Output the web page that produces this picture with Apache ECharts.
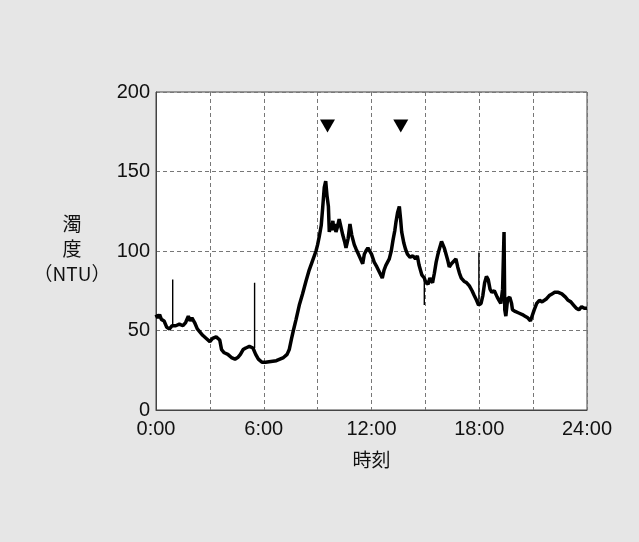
<!DOCTYPE html>
<html>
<head>
<meta charset="utf-8">
<script src="https://cdn.jsdelivr.net/npm/echarts@6/dist/echarts.min.js"></script>
<style>
  html, body { margin: 0; padding: 0; background: #e6e6e6; }
  #chart { width: 639px; height: 542px; }
</style>
</head>
<body>
<div id="chart"></div>
<script>
// Turbidity record over one day: [hour, NTU]
const turbidity = [
  [0.00, 60], [0.10, 58], [0.20, 60], [0.30, 57], [0.45, 56], [0.60, 52], [0.75, 51], [0.90, 53],
  [1.10, 53], [1.30, 54], [1.50, 53], [1.65, 55], [1.80, 59], [1.90, 56], [2.00, 58], [2.15, 55],
  [2.30, 51], [2.45, 49], [2.60, 47], [2.80, 45], [3.00, 43], [3.15, 45], [3.35, 46], [3.55, 44],
  [3.65, 38], [3.80, 36], [4.00, 35], [4.20, 33], [4.40, 32], [4.55, 33], [4.70, 35], [4.85, 38],
  [5.00, 39], [5.20, 40], [5.40, 39], [5.55, 35], [5.70, 32], [5.90, 30], [6.10, 30], [6.40, 30.5],
  [6.70, 31], [6.90, 32], [7.10, 33], [7.30, 35], [7.42, 38], [7.55, 45], [7.65, 50], [7.80, 57],
  [7.98, 66], [8.16, 73], [8.35, 81], [8.53, 88], [8.72, 94], [8.91, 100], [9.00, 104], [9.09, 109],
  [9.20, 116], [9.28, 127], [9.37, 140], [9.45, 144], [9.52, 135], [9.60, 128], [9.65, 112], [9.72, 116],
  [9.78, 113], [9.85, 119], [9.90, 113], [9.95, 117], [10.02, 112], [10.10, 115], [10.20, 120], [10.30, 115],
  [10.40, 110], [10.50, 106], [10.58, 102], [10.70, 108], [10.80, 117], [10.90, 110], [11.04, 104], [11.15, 101],
  [11.23, 99], [11.35, 96], [11.51, 92], [11.60, 98], [11.69, 100], [11.80, 102], [11.88, 101], [12.00, 98],
  [12.15, 93], [12.30, 90], [12.43, 87], [12.60, 83], [12.70, 88], [12.80, 91], [12.99, 95], [13.10, 100],
  [13.20, 107], [13.30, 113], [13.36, 118], [13.45, 124], [13.55, 128], [13.62, 120], [13.68, 112], [13.80, 105],
  [13.90, 101], [14.00, 98], [14.15, 96], [14.30, 97], [14.45, 95], [14.55, 97], [14.65, 91], [14.80, 85],
  [14.94, 83], [15.00, 81], [15.15, 79], [15.25, 83], [15.40, 80], [15.50, 86], [15.60, 93], [15.70, 98],
  [15.77, 101], [15.90, 106], [15.96, 105], [16.05, 102], [16.15, 101], [16.25, 94], [16.33, 90], [16.45, 92],
  [16.55, 91], [16.70, 95], [16.80, 90], [16.90, 86], [17.00, 83], [17.15, 81], [17.30, 80], [17.45, 78],
  [17.60, 75], [17.72, 72], [17.85, 69], [17.96, 66], [18.10, 67], [18.20, 72], [18.30, 80], [18.40, 84],
  [18.50, 82], [18.60, 76], [18.70, 74], [18.84, 75], [19.00, 71], [19.10, 69], [19.20, 67], [19.30, 76],
  [19.38, 112], [19.42, 63], [19.48, 59], [19.58, 70], [19.70, 71], [19.80, 67], [19.85, 63], [20.00, 62],
  [20.20, 61], [20.40, 60], [20.55, 59], [20.70, 58], [20.85, 56], [20.95, 55], [21.06, 63], [21.20, 67],
  [21.35, 69], [21.50, 68], [21.60, 67], [21.75, 70], [21.90, 72], [22.05, 73], [22.20, 74], [22.40, 74],
  [22.60, 73], [22.80, 71], [22.95, 69], [23.10, 68], [23.25, 66], [23.40, 64], [23.55, 63], [23.70, 65],
  [23.85, 64], [24.00, 64]
];

// Short single-sample spikes: [hour, base NTU, tip NTU]
const spikes = [
  [0.93, 53, 82],
  [5.49, 39, 80],
  [14.94, 83, 66],
  [17.98, 66, 99]
];

// Event markers above the curve: [hour, NTU]
const markers = [[9.55, 178.6], [13.63, 178.6]];

const yTicks = [0, 50, 100, 150, 200];
const timeLabels = ['0:00', '6:00', '12:00', '18:00', '24:00'];

const spikeData = [];
spikes.forEach(s => {
  spikeData.push([s[0], s[1]], [s[0], s[2]], [s[0], '-']);
});

const numFont = '"Liberation Sans", Arial, sans-serif';
const cjkFont = '"Noto Sans CJK JP", sans-serif';

const chart = echarts.init(document.getElementById('chart'), null, { renderer: 'canvas' });
chart.setOption({
  backgroundColor: '#e6e6e6',
  animation: false,
  grid: {
    left: 156, top: 92, width: 431, height: 318,
    show: true, backgroundColor: '#ffffff', borderColor: '#444', borderWidth: 1
  },
  xAxis: {
    type: 'value', min: 0, max: 24, interval: 3,
    name: '時刻', nameLocation: 'middle', nameGap: 40,
    nameTextStyle: { fontFamily: cjkFont, fontSize: 19, color: '#111' },
    axisLine: { show: true, lineStyle: { color: '#444', width: 1 } },
    axisTick: { show: false },
    axisLabel: {
      margin: 9, fontFamily: numFont, fontSize: 20, color: '#111',
      formatter: v => (v % 6 === 0 ? timeLabels[v / 6] : '')
    },
    splitLine: { show: true, lineStyle: { color: '#777', width: 1, type: [4, 3] } }
  },
  yAxis: {
    type: 'value', min: yTicks[0], max: yTicks[yTicks.length - 1], interval: 50,
    axisLine: { show: true, lineStyle: { color: '#444', width: 1 } },
    axisTick: { show: false },
    axisLabel: { margin: 6, fontFamily: numFont, fontSize: 20, color: '#111' },
    splitLine: { show: true, lineStyle: { color: '#777', width: 1, type: [4, 3] } }
  },
  graphic: [{
    type: 'text',
    style: {
      text: '濁\n度\n（NTU）', x: 72, y: 249, align: 'center', verticalAlign: 'middle',
      fontFamily: cjkFont, fontSize: 19, fill: '#111', lineHeight: 25
    }
  }],
  series: [
    {
      type: 'line', data: turbidity, showSymbol: false, symbol: 'none',
      lineStyle: { color: '#000', width: 3.5, join: 'bevel', cap: 'butt' }, z: 3
    },
    {
      type: 'line', data: spikeData, showSymbol: false, symbol: 'none', connectNulls: false,
      lineStyle: { color: '#000', width: 1.4 }, z: 3
    },
    {
      type: 'scatter', data: markers, symbol: 'triangle', symbolRotate: 180,
      symbolSize: [15, 13], itemStyle: { color: '#000', opacity: 1 }, z: 4
    }
  ]
});
</script>
</body>
</html>
